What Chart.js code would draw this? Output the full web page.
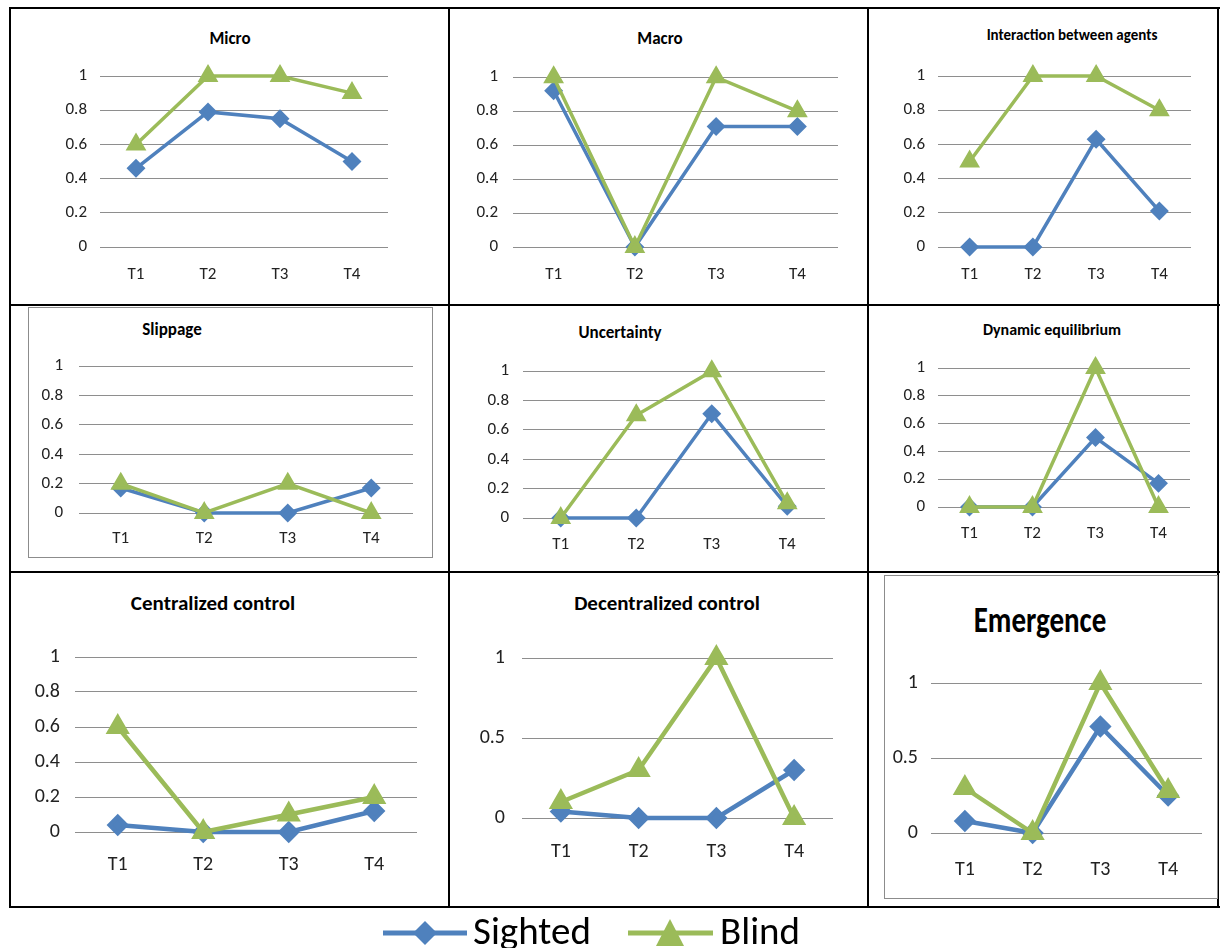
<!DOCTYPE html>
<html>
<head>
<meta charset="utf-8">
<script src="https://cdn.jsdelivr.net/npm/chart.js@4.4.1/dist/chart.umd.min.js"></script>
<style>
  body { margin: 0; background: #fff; width: 1220px; height: 948px; overflow: hidden; position: relative;
         font-family: Carlito, 'Liberation Sans Narrow', 'Liberation Sans', sans-serif; }
  .rule { position: absolute; background: #000; }
  .box { position: absolute; border: 1px solid #8c8c8c; box-sizing: border-box; }
  .ttl { position: absolute; font-weight: bold; white-space: nowrap; color: #000; line-height: 1; }
  canvas { position: absolute; }
</style>
</head>
<body>
<script>
// categories and ticks
const timeLabels = ['T1', 'T2', 'T3', 'T4'];
const fineTicks = [0, 0.2, 0.4, 0.6, 0.8, 1];
const coarseTicks = [0, 0.5, 1];

// values (Sighted / Blind)
const microSighted = [0.46, 0.79, 0.75, 0.5];
const microBlind = [0.6, 1, 1, 0.9];
const macroSighted = [0.92, 0, 0.71, 0.71];
const macroBlind = [1, 0, 1, 0.8];
const interactionSighted = [0, 0, 0.63, 0.21];
const interactionBlind = [0.5, 1, 1, 0.8];
const slippageSighted = [0.17, 0, 0, 0.17];
const slippageBlind = [0.2, 0, 0.2, 0];
const uncertaintySighted = [0, 0, 0.71, 0.08];
const uncertaintyBlind = [0, 0.7, 1, 0.1];
const equilibriumSighted = [0, 0, 0.5, 0.17];
const equilibriumBlind = [0, 0, 1, 0];
const centralSighted = [0.04, 0, 0, 0.12];
const centralBlind = [0.6, 0, 0.1, 0.2];
const decentralSighted = [0.04, 0, 0, 0.3];
const decentralBlind = [0.1, 0.3, 1, 0];
const emergenceSighted = [0.08, 0, 0.71, 0.25];
const emergenceBlind = [0.3, 0, 1, 0.28];

const BLUE = '#4f81bd';
const GREEN = '#9bbb59';
const FONT = "Carlito, 'Liberation Sans Narrow', 'Liberation Sans', sans-serif";

const panels = [
    { title: 'Micro', sighted: microSighted, blind: microBlind, ticks: fineTicks },
    { title: 'Macro', sighted: macroSighted, blind: macroBlind, ticks: fineTicks },
    { title: 'Interaction between agents', sighted: interactionSighted, blind: interactionBlind, ticks: fineTicks },
    { title: 'Slippage', sighted: slippageSighted, blind: slippageBlind, ticks: fineTicks },
    { title: 'Uncertainty', sighted: uncertaintySighted, blind: uncertaintyBlind, ticks: fineTicks },
    { title: 'Dynamic equilibrium', sighted: equilibriumSighted, blind: equilibriumBlind, ticks: fineTicks },
    { title: 'Centralized control', sighted: centralSighted, blind: centralBlind, ticks: fineTicks },
    { title: 'Decentralized control', sighted: decentralSighted, blind: decentralBlind, ticks: coarseTicks },
    { title: 'Emergence', sighted: emergenceSighted, blind: emergenceBlind, ticks: coarseTicks }
];

// plot boxes (L,R = gridline ends, T = value 1, B = value 0), title centre, fonts
const layout = [
    { L: 100, R: 388, T: 76, B: 247, tx: 230, ty: 38, ts: 17, fs: 17, gap: 13, catY: 273, mark: 7, lw: 3.5 },
    { L: 513, R: 838, T: 76, B: 247, tx: 660, ty: 38, ts: 17, fs: 17, gap: 15, catY: 273, mark: 7, lw: 3.5 },
    { L: 938, R: 1191, T: 76, B: 247, tx: 1072, ty: 35, ts: 15, fs: 17, gap: 13, catY: 273, mark: 7, lw: 3.5 },
    { L: 79, R: 413, T: 364, B: 513, tx: 172, ty: 329, ts: 17, fs: 17, gap: 16, catY: 537, mark: 7, lw: 3.5 },
    { L: 523, R: 825, T: 371, B: 518, tx: 620, ty: 332, ts: 17, fs: 17, gap: 14, catY: 543, mark: 7, lw: 3.5 },
    { L: 938, R: 1190, T: 368, B: 507, tx: 1052, ty: 330, ts: 16, fs: 17, gap: 13, catY: 532, mark: 7, lw: 3.5 },
    { L: 75, R: 417, T: 654, B: 832, tx: 213, ty: 603, ts: 21, fs: 20, gap: 15, catY: 863, mark: 8, lw: 4.5 },
    { L: 522, R: 833, T: 653, B: 818, tx: 667, ty: 603, ts: 21, fs: 20, gap: 17, catY: 850, mark: 8, lw: 4.5 },
    { L: 931, R: 1202, T: 682, B: 833, tx: 1040, ty: 620, ts: 29, fs: 20, gap: 13, catY: 868, mark: 8, lw: 4.5, stretch: 1.25 }
];

// table rules and inner frames
function addDiv(cls, x, y, w, h) {
    const d = document.createElement('div');
    d.className = cls;
    d.style.left = x + 'px';
    d.style.top = y + 'px';
    d.style.width = w + 'px';
    d.style.height = h + 'px';
    document.body.appendChild(d);
}
[7, 304, 571, 906].forEach(y => addDiv('rule', 9, y, 1211, 2));
[9, 448, 867, 1217].forEach(x => addDiv('rule', x, 7, 2, 901));
addDiv('box', 28, 307, 405, 251);
addDiv('box', 884, 575, 334, 324);

function makeChart(p, g) {
    const yW = 60, xH = 50, padT = 24, padR = 24;
    const canvas = document.createElement('canvas');
    canvas.width = yW + (g.R - g.L) + padR;
    canvas.height = padT + (g.B - g.T) + xH;
    canvas.style.left = (g.L - yW) + 'px';
    canvas.style.top = (g.T - padT) + 'px';
    document.body.appendChild(canvas);

    const t = document.createElement('div');
    t.className = 'ttl';
    t.textContent = p.title;
    t.style.left = g.tx + 'px';
    t.style.top = g.ty + 'px';
    t.style.fontSize = g.ts + 'px';
    t.style.transform = 'translate(-50%, -50%) scaleY(' + (g.stretch || 1) + ')';
    document.body.appendChild(t);

    new Chart(canvas, {
        type: 'line',
        data: {
            labels: timeLabels,
            datasets: [{
                label: 'Sighted',
                data: p.sighted,
                borderColor: BLUE,
                backgroundColor: BLUE,
                borderWidth: g.lw,
                pointStyle: 'rectRot',
                pointRadius: g.mark,
                order: 2,
                clip: false
            }, {
                label: 'Blind',
                data: p.blind,
                borderColor: GREEN,
                backgroundColor: GREEN,
                borderWidth: g.lw,
                pointStyle: 'triangle',
                pointRadius: g.mark + 1.5,
                order: 1,
                clip: false
            }]
        },
        options: {
            responsive: false,
            animation: false,
            events: [],
            layout: { padding: { top: padT, right: padR, left: 0, bottom: 0 } },
            plugins: { legend: { display: false }, tooltip: { enabled: false } },
            scales: {
                x: {
                    offset: true,
                    grid: { display: false },
                    border: { display: false },
                    ticks: { color: '#222', maxRotation: 0, font: { family: FONT, size: g.fs },
                             padding: g.catY - g.B - g.fs * 0.6 - 6 },
                    afterFit(s) { s.height = xH; }
                },
                y: {
                    min: 0,
                    max: 1,
                    grid: { color: '#8e8e8e', drawTicks: false },
                    border: { display: false },
                    ticks: { color: '#222', padding: g.gap, font: { family: FONT, size: g.fs },
                             callback: v => String(v) },
                    afterBuildTicks(s) { s.ticks = p.ticks.map(v => ({ value: v })); },
                    afterFit(s) { s.width = yW; }
                }
            }
        }
    });
}

panels.forEach((p, i) => makeChart(p, layout[i]));
</script>
<svg width="1220" height="948" style="position:absolute;left:0;top:0;pointer-events:none">
  <line x1="383" y1="933" x2="467" y2="933" stroke="#4f81bd" stroke-width="5"/>
  <polygon points="425,921 437,933 425,945 413,933" fill="#4f81bd"/>
  <text x="473" y="944" font-size="39" fill="#000" font-family="Carlito, 'Liberation Sans Narrow', 'Liberation Sans', sans-serif">Sighted</text>
  <line x1="628" y1="933" x2="713" y2="933" stroke="#9bbb59" stroke-width="5"/>
  <polygon points="670,919 684,946 656,946" fill="#9bbb59"/>
  <text x="720" y="944" font-size="39" fill="#000" font-family="Carlito, 'Liberation Sans Narrow', 'Liberation Sans', sans-serif">Blind</text>
</svg>
</body>
</html>
